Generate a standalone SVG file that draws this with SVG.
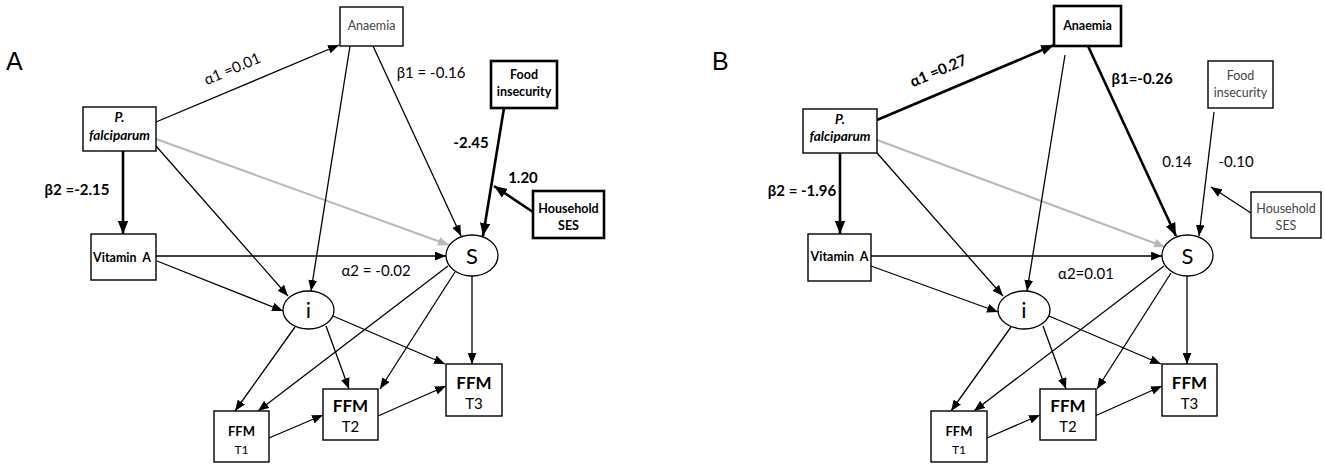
<svg xmlns="http://www.w3.org/2000/svg" width="1325" height="472" viewBox="0 0 1325 472">
<defs>
<style>
.box{fill:#fff;stroke:#000;stroke-width:1.4}
.thick{stroke-width:2.6}
.ell{fill:#fff;stroke:#000;stroke-width:1.3}
.e{stroke:#000;stroke-width:1.3;fill:none;marker-end:url(#ah)}
.eb{stroke:#000;stroke-width:2.6;fill:none;marker-end:url(#ahb)}
.eg{stroke:#b8b8b8;stroke-width:2;fill:none;marker-end:url(#ahg)}
text{font-family:Lato,"Liberation Sans",sans-serif;text-anchor:middle;dominant-baseline:central;fill:#000}
.lbl{font-size:15px}
.lblb{font-size:15px;font-weight:bold}
.nt{font-size:12.5px;font-weight:bold}
.ng{font-size:12.5px;fill:#444}
.pf{font-size:13.5px;font-weight:bold;font-style:italic}
.big{font-size:17px;font-weight:bold}
.bigt{font-size:15px}
.sm{font-size:13px;font-weight:bold}
.smt{font-size:12px}
.lat{font-size:22px}
.panel{font-family:"Liberation Sans",sans-serif;font-size:25px;text-anchor:start;dominant-baseline:auto}
</style>
<marker id="ah" viewBox="0 0 10 8" refX="10" refY="4" markerWidth="11" markerHeight="9" markerUnits="userSpaceOnUse" orient="auto"><path d="M0,0L10,4L0,8z" fill="#000"/></marker>
<marker id="ahb" viewBox="0 0 10 8" refX="10" refY="4" markerWidth="13" markerHeight="11" markerUnits="userSpaceOnUse" orient="auto"><path d="M0,0L10,4L0,8z" fill="#000"/></marker>
<marker id="ahg" viewBox="0 0 10 8" refX="10" refY="4" markerWidth="11" markerHeight="9" markerUnits="userSpaceOnUse" orient="auto"><path d="M0,0L10,4L0,8z" fill="#b8b8b8"/></marker>
</defs>
<rect width="1325" height="472" fill="#fff"/>
<text class="panel" x="6" y="70">A</text>
<text class="panel" x="712" y="70">B</text>

<g id="connectors-A">
<path class="e" d="M156,122L339,45"/>
<path class="eg" d="M156,139L449,245"/>
<path class="e" d="M156,146L288,296"/>
<path class="eb" d="M123,151L123,234"/>
<path class="e" d="M350,46L311,291"/>
<path class="e" d="M373,46L461,236"/>
<path class="eb" d="M504,108L483,236"/>
<path class="eb" d="M533,212L494,186"/>
<path class="e" d="M156,256L446,256"/>
<path class="e" d="M157,261L283,311"/>
<path class="e" d="M295,327L235,411"/>
<path class="e" d="M448,266L258,411"/>
<path class="e" d="M326,326L349,389"/>
<path class="e" d="M455,272L380,389"/>
<path class="e" d="M333,316L445,364"/>
<path class="e" d="M472,276L472,364"/>
<path class="e" d="M269,438L323,415"/>
<path class="e" d="M378,416L446,386"/>
<text class="lbl" transform="translate(232,68) rotate(-23)">α1 =0.01</text>
<text class="lblb" x="77" y="189">β2 =-2.15</text>
<text class="lbl" x="431" y="72">β1 = -0.16</text>
<text class="lblb" x="471" y="142">-2.45</text>
<text class="lblb" x="523" y="177">1.20</text>
<text class="lbl" x="376" y="270">α2 = -0.02</text>
</g>

<g id="A-pfalciparum"><rect class="box" x="83" y="107" width="73" height="44"/><text class="pf" x="119.5" y="117">P.</text><text class="pf" x="119.5" y="135">falciparum</text></g>
<g id="A-anaemia"><rect class="box" x="340" y="7" width="63" height="39"/><text class="ng" x="371.5" y="25">Anaemia</text></g>
<g id="A-food"><rect class="box thick" x="491" y="61" width="66" height="47"/><text class="nt" x="524" y="74">Food</text><text class="nt" x="524" y="91">insecurity</text></g>
<g id="A-ses"><rect class="box thick" x="533" y="191" width="71" height="47"/><text class="nt" x="568.5" y="208">Household</text><text class="nt" x="568.5" y="225">SES</text></g>
<g id="A-vitA"><rect class="box" x="91" y="234" width="65" height="46"/><text class="nt" x="122" y="257">Vitamin&#160; A</text></g>
<g id="A-i"><ellipse class="ell" cx="308.5" cy="310" rx="25.5" ry="19"/><text class="lat" x="308.5" y="309">i</text></g>
<g id="A-S"><ellipse class="ell" cx="472" cy="255.5" rx="26" ry="20.5"/><text class="lat" x="472" y="255">S</text></g>
<g id="A-T1"><rect class="box" x="214" y="411" width="55" height="51"/><text class="sm" x="241.5" y="431">FFM</text><text class="smt" x="241.5" y="449">T1</text></g>
<g id="A-T2"><rect class="box" x="323" y="389" width="55" height="51"/><text class="big" x="350.5" y="405">FFM</text><text class="bigt" x="350.5" y="426">T2</text></g>
<g id="A-T3"><rect class="box" x="446" y="364" width="56" height="52"/><text class="big" x="474" y="382">FFM</text><text class="bigt" x="474" y="403">T3</text></g>

<g id="connectors-B">
<path class="eb" d="M877,120L1054,45"/>
<path class="eg" d="M877,140L1165,247"/>
<path class="e" d="M877,153L1003,296"/>
<path class="eb" d="M840,153L840,234"/>
<path class="e" d="M1065,55L1027,291"/>
<path class="eb" d="M1088,46L1176,236"/>
<path class="e" d="M1214,112L1199,236"/>
<path class="e" d="M1251,213L1211,187"/>
<path class="e" d="M871,256L1162,256"/>
<path class="e" d="M871,266L998,312"/>
<path class="e" d="M1011,327L951,411"/>
<path class="e" d="M1164,266L974,411"/>
<path class="e" d="M1043,326L1066,389"/>
<path class="e" d="M1171,273L1097,389"/>
<path class="e" d="M1049,316L1161,364"/>
<path class="e" d="M1187,276L1187,364"/>
<path class="e" d="M987,438L1040,415"/>
<path class="e" d="M1095,416L1162,386"/>
<text class="lblb" transform="translate(938,70) rotate(-23)">α1 =0.27</text>
<text class="lblb" x="802" y="190">β2 = -1.96</text>
<text class="lblb" x="1142" y="78">β1=-0.26</text>
<text class="lbl" x="1177" y="161">0.14</text>
<text class="lbl" x="1236" y="161">-0.10</text>
<text class="lbl" x="1086" y="273">α2=0.01</text>
</g>

<g id="B-pfalciparum"><rect class="box" x="803" y="109" width="74" height="44"/><text class="pf" x="840" y="119">P.</text><text class="pf" x="840" y="136">falciparum</text></g>
<g id="B-anaemia"><rect class="box thick" x="1054" y="6" width="67" height="40"/><text class="nt" x="1087.5" y="25">Anaemia</text></g>
<g id="B-food"><rect class="box" x="1208" y="61" width="65" height="47"/><text class="ng" x="1240.5" y="75">Food</text><text class="ng" x="1240.5" y="92">insecurity</text></g>
<g id="B-ses"><rect class="box" x="1251" y="192" width="70" height="46"/><text class="ng" x="1286" y="208">Household</text><text class="ng" x="1286" y="225">SES</text></g>
<g id="B-vitA"><rect class="box" x="808" y="234" width="63" height="47"/><text class="nt" x="839.5" y="256">Vitamin&#160; A</text></g>
<g id="B-i"><ellipse class="ell" cx="1024" cy="310" rx="26" ry="19"/><text class="lat" x="1024" y="309">i</text></g>
<g id="B-S"><ellipse class="ell" cx="1187.5" cy="255.5" rx="25.5" ry="20.5"/><text class="lat" x="1187.5" y="255">S</text></g>
<g id="B-T1"><rect class="box" x="931" y="411" width="56" height="51"/><text class="sm" x="959" y="431">FFM</text><text class="smt" x="959" y="449">T1</text></g>
<g id="B-T2"><rect class="box" x="1040" y="389" width="56" height="51"/><text class="big" x="1068" y="405">FFM</text><text class="bigt" x="1068" y="426">T2</text></g>
<g id="B-T3"><rect class="box" x="1162" y="364" width="55" height="52"/><text class="big" x="1189.5" y="382">FFM</text><text class="bigt" x="1189.5" y="403">T3</text></g>
</svg>
